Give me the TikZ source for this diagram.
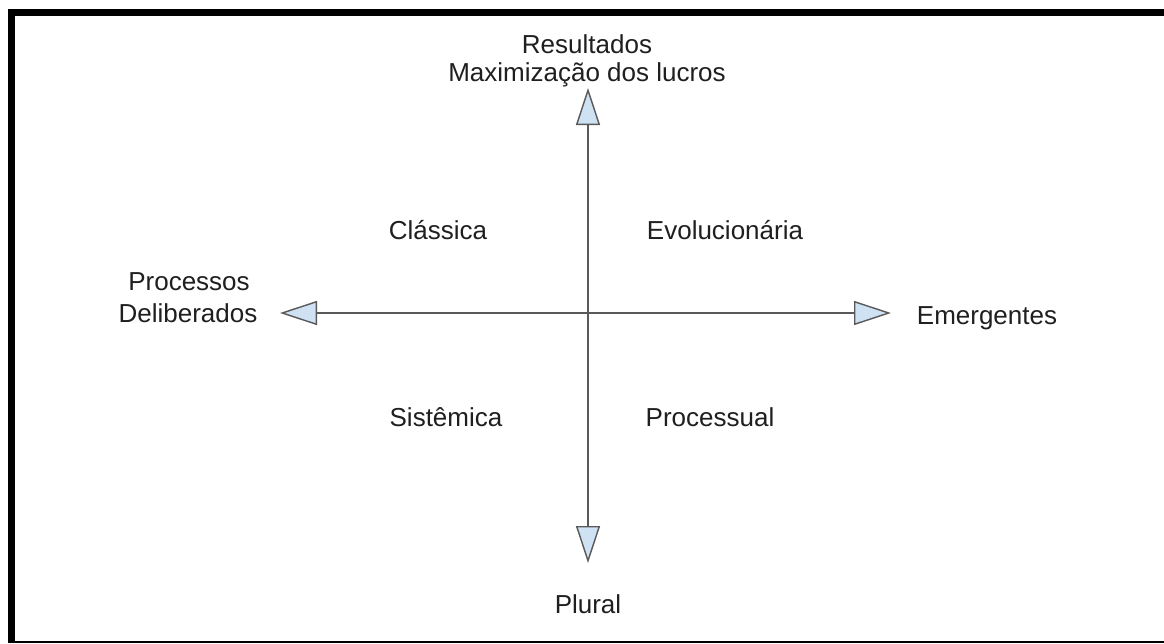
\documentclass[tikz,border=0pt]{standalone}
\usepackage{fontspec}
\setmainfont{Liberation Sans}
\usetikzlibrary{arrows.meta}
\definecolor{tipfill}{HTML}{CFE2F3}
\definecolor{axisgray}{HTML}{595959}
\definecolor{txt}{HTML}{1F1F1F}
\begin{document}
\begin{tikzpicture}[x=1pt,y=-1pt,
  lbl/.style={inner sep=0pt,text=txt,font=\fontsize{26}{31}\selectfont,align=center},
  axisline/.style={draw=axisgray,line width=1.4pt}]
\useasboundingbox (0,0) rectangle (1164,643);
\fill[white] (0,0) rectangle (1164,643);
% border
\fill[black] (8,9) rectangle (1164,16);
\fill[black] (8,9) rectangle (15,643);
\fill[black] (8,641) rectangle (1164,643);
% axis end points
\coordinate (top) at (588,88);
\coordinate (bottom) at (588,563);
\coordinate (left) at (280,313);
\coordinate (right) at (891,313);
\draw[axisline,{Triangle[length=37pt,width=24pt,fill=tipfill]}-{Triangle[length=37pt,width=24pt,fill=tipfill]}] (top) -- (bottom);
\draw[axisline,{Triangle[length=37pt,width=24pt,fill=tipfill]}-{Triangle[length=37pt,width=24pt,fill=tipfill]}] (left) -- (right);
% labels
\node[lbl] (res) at (587,44) {Resultados};
\node[lbl] (max) at (587,75) {Maximização dos lucros};
\node[lbl] (proc) at (189,282) {Processos};
\node[lbl] (delib) at (188,313) {Deliberados};
\node[lbl] (emerg) at (987,318) {Emergentes};
\node[lbl] (class) at (438,230) {Clássica};
\node[lbl] (evol) at (725,230) {Evolucionária};
\node[lbl] (sist) at (446,417) {Sistêmica};
\node[lbl] (procs) at (710,417) {Processual};
\node[lbl] (plural) at (588,604) {Plural};
\end{tikzpicture}
\end{document}
